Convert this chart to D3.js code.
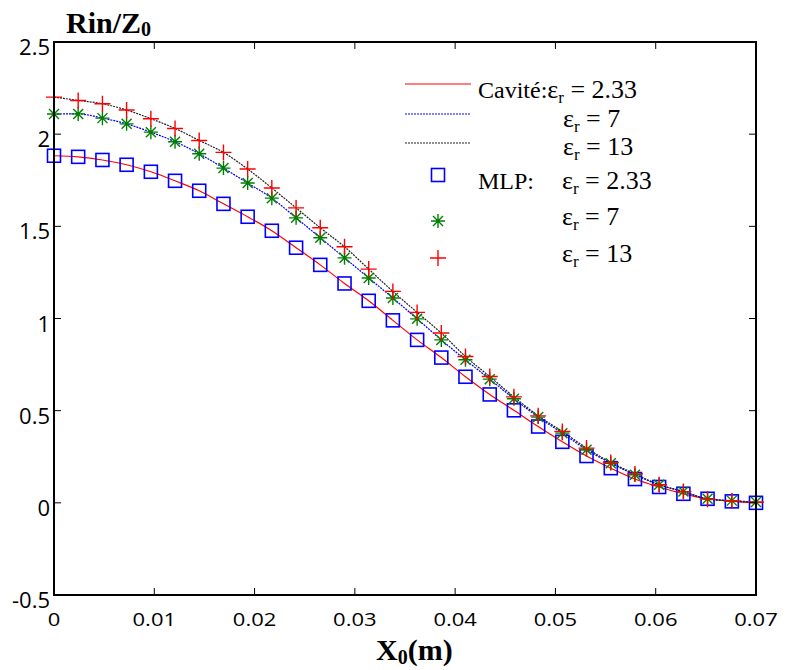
<!doctype html>
<html>

<head>
    <title>Rin/Z0 vs X0</title>
    <style>
        body { margin: 0; background: #fff; }
        .tick-label { font-family: "Open Sans", "DejaVu Sans", sans-serif; font-size: 22px; fill: #000; }
        .serif { font-family: "Liberation Serif", "Times New Roman", serif; fill: #000; }
    </style>
    <script src="https://d3js.org/d3.v7.min.js"></script>
</head>

<body>
    <svg width="787" height="670"></svg>
    <script>
        // x positions of the markers (m)
        var xValues = [0, 0.00241, 0.00483, 0.00724, 0.00966, 0.01207, 0.01448, 0.0169, 0.01931, 0.02172,
            0.02414, 0.02655, 0.02897, 0.03138, 0.03379, 0.03621, 0.03862, 0.04103, 0.04345, 0.04586,
            0.04828, 0.05069, 0.0531, 0.05552, 0.05793, 0.06034, 0.06276, 0.06517, 0.06759, 0.07];

        // Rin/Z0 for er = 2.33, 7, 13
        var er233 = [1.883, 1.877, 1.86, 1.834, 1.796, 1.747, 1.693, 1.622, 1.552, 1.476,
            1.384, 1.291, 1.19, 1.096, 0.99, 0.884, 0.788, 0.684, 0.588, 0.502,
            0.414, 0.331, 0.254, 0.188, 0.129, 0.086, 0.049, 0.022, 0.008, 0.0];
        var er7 = [2.109, 2.11, 2.087, 2.056, 2.011, 1.959, 1.894, 1.816, 1.735, 1.653,
            1.546, 1.438, 1.329, 1.22, 1.111, 0.998, 0.884, 0.776, 0.671, 0.565,
            0.465, 0.378, 0.288, 0.215, 0.152, 0.098, 0.061, 0.022, 0.012, 0.004];
        var er13 = [2.201, 2.183, 2.165, 2.131, 2.084, 2.031, 1.966, 1.901, 1.811, 1.708,
            1.60, 1.492, 1.389, 1.268, 1.147, 1.033, 0.921, 0.794, 0.685, 0.575,
            0.472, 0.387, 0.297, 0.219, 0.157, 0.098, 0.061, 0.02, 0.01, 0.003];

        var xTicks = [0, 0.01, 0.02, 0.03, 0.04, 0.05, 0.06, 0.07];
        var xTickLabels = ["0", "0.01", "0.02", "0.03", "0.04", "0.05", "0.06", "0.07"];
        var yTicks = [-0.5, 0, 0.5, 1, 1.5, 2, 2.5];
        var yTickLabels = ["-0.5", "0", "0.5", "1", "1.5", "2", "2.5"];

        var svg = d3.select("svg");
        var pLeft = 54, pRight = 756, pTop = 42, pBottom = 595;

        var xScale = d3.scaleLinear().domain([0, 0.07]).range([pLeft, pRight]);
        var yScale = d3.scaleLinear().domain([-0.5, 2.5]).range([pBottom, pTop]);

        function pts(ys) {
            return xValues.map(function (x, i) { return [x, ys[i]]; });
        }

        var line = d3.line()
            .x(function (d) { return xScale(d[0]); })
            .y(function (d) { return yScale(d[1]); })
            .curve(d3.curveMonotoneX);

        // cavity model curves
        svg.append("path").attr("d", line(pts(er233)))
            .attr("fill", "none").attr("stroke", "#ff0000").attr("stroke-width", 1.2);
        svg.append("path").attr("d", line(pts(er7)))
            .attr("fill", "none").attr("stroke", "#0000ff").attr("stroke-width", 1.2)
            .attr("stroke-dasharray", "2,1");
        svg.append("path").attr("d", line(pts(er13)))
            .attr("fill", "none").attr("stroke", "#222").attr("stroke-width", 1.2)
            .attr("stroke-dasharray", "2,1");

        // marker shapes
        function square(g) {
            g.append("rect").attr("x", -6.5).attr("y", -6.5).attr("width", 13).attr("height", 13)
                .attr("fill", "none").attr("stroke", "#0000ff").attr("stroke-width", 1.6);
        }
        function star(g) {
            g.append("path").attr("d", "M-7,0H7M0,-7V7M-5,-5L5,5M-5,5L5,-5")
                .attr("stroke", "#008000").attr("stroke-width", 1.4).attr("fill", "none");
        }
        function plus(g) {
            g.append("path").attr("d", "M-8,0H8M0,-8V8")
                .attr("stroke", "#ff0000").attr("stroke-width", 1.4).attr("fill", "none");
        }

        function markers(ys, shape) {
            svg.append("g").selectAll("g")
                .data(pts(ys))
                .enter()
                .append("g")
                .attr("transform", function (d) { return "translate(" + xScale(d[0]) + "," + yScale(d[1]) + ")"; })
                .each(function () { shape(d3.select(this)); });
        }
        markers(er233, square);
        markers(er7, star);
        markers(er13, plus);

        // frame with inward ticks on all sides
        svg.append("rect").attr("x", pLeft).attr("y", pTop)
            .attr("width", pRight - pLeft).attr("height", pBottom - pTop)
            .attr("fill", "none").attr("stroke", "#000").attr("stroke-width", 2);

        var ticks = svg.append("g").attr("stroke", "#000").attr("stroke-width", 1);
        xTicks.forEach(function (t) {
            ticks.append("line").attr("x1", xScale(t)).attr("x2", xScale(t)).attr("y1", pBottom).attr("y2", pBottom - 7);
            ticks.append("line").attr("x1", xScale(t)).attr("x2", xScale(t)).attr("y1", pTop).attr("y2", pTop + 7);
        });
        yTicks.forEach(function (t) {
            ticks.append("line").attr("y1", yScale(t)).attr("y2", yScale(t)).attr("x1", pLeft).attr("x2", pLeft + 7);
            ticks.append("line").attr("y1", yScale(t)).attr("y2", yScale(t)).attr("x1", pRight).attr("x2", pRight - 7);
        });

        svg.append("g").selectAll("text")
            .data(xTicks)
            .enter()
            .append("text")
            .attr("class", "tick-label")
            .attr("text-anchor", "middle")
            .attr("transform", function (d) { return "translate(" + xScale(d) + "," + (pBottom + 31) + ") scale(1,0.85)"; })
            .text(function (d, i) { return xTickLabels[i]; });

        svg.append("g").selectAll("text")
            .data(yTicks)
            .enter()
            .append("text")
            .attr("class", "tick-label")
            .attr("text-anchor", "end")
            .attr("x", pLeft - 4)
            .attr("y", function (d) { return yScale(d) + 13; })
            .text(function (d, i) { return yTickLabels[i]; });

        // axis titles
        var title = svg.append("text").attr("class", "serif")
            .attr("x", 66).attr("y", 33)
            .attr("font-size", 30).attr("font-weight", "bold");
        title.append("tspan").text("Rin/Z");
        title.append("tspan").attr("font-size", 20).attr("dy", 3).text("0");

        var xlab = svg.append("text").attr("class", "serif")
            .attr("x", 376).attr("y", 660)
            .attr("font-size", 30).attr("font-weight", "bold");
        xlab.append("tspan").text("X");
        xlab.append("tspan").attr("font-size", 20).attr("dy", 4).text("0");
        xlab.append("tspan").attr("dy", -4).text("(m)");

        // legend
        var lineRows = [
            { y: 84, color: "#ff0000", dash: null },
            { y: 114, color: "#0000ff", dash: "2,1" },
            { y: 143, color: "#222", dash: "2,1" }
        ];
        lineRows.forEach(function (r) {
            svg.append("line").attr("x1", 405).attr("x2", 471).attr("y1", r.y).attr("y2", r.y)
                .attr("stroke", r.color).attr("stroke-width", 1.2)
                .attr("stroke-dasharray", r.dash);
        });
        [[175, square], [221, star], [258, plus]].forEach(function (m) {
            var g = svg.append("g").attr("transform", "translate(438," + m[0] + ")");
            m[1](g);
        });

        function erText(x, y, value, prefix) {
            var t = svg.append("text").attr("class", "serif").attr("x", x).attr("y", y).attr("font-size", 26);
            if (prefix) t.append("tspan").attr("font-size", 24).text(prefix);
            t.append("tspan").text("\u03b5");
            t.append("tspan").attr("font-size", 17).attr("dy", 5).text("r");
            t.append("tspan").attr("dy", -5).text(" = " + value);
        }
        erText(478, 98, "2.33", "Cavit\u00e9:");
        erText(563, 127, "7");
        erText(563, 155, "13");
        svg.append("text").attr("class", "serif").attr("x", 478).attr("y", 189).attr("font-size", 24).text("MLP:");
        erText(562, 189, "2.33");
        erText(562, 225, "7");
        erText(562, 262, "13");
    </script>
</body>

</html>
